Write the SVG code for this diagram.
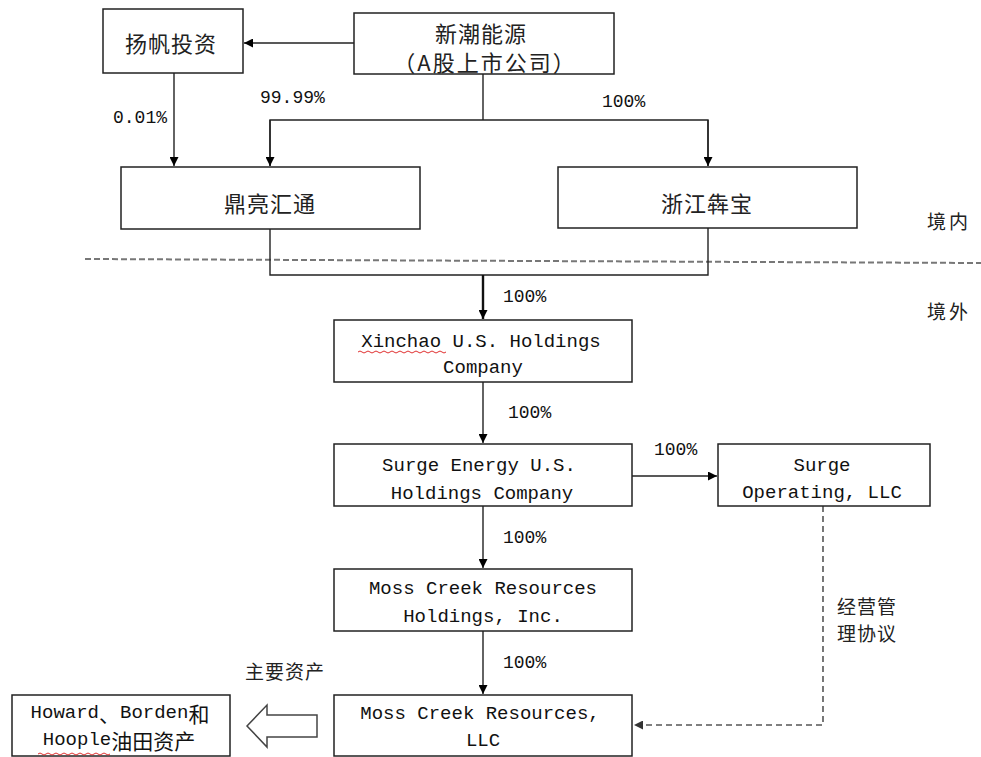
<svg xmlns="http://www.w3.org/2000/svg" width="981" height="757" viewBox="0 0 981 757">
<defs>
<marker id="ah" viewBox="0 0 10 10" refX="10" refY="5" markerWidth="9" markerHeight="9" markerUnits="userSpaceOnUse" orient="auto">
<path d="M0,0 L10,5 L0,10 z" fill="#000"/>
</marker>
<marker id="ahg" viewBox="0 0 10 10" refX="10" refY="5" markerWidth="9" markerHeight="9" markerUnits="userSpaceOnUse" orient="auto">
<path d="M0,0 L10,5 L0,10 z" fill="#333"/>
</marker>
</defs>
<style>
.box{fill:#fff;stroke:#222;stroke-width:1.5}
.ln{fill:none;stroke:#222;stroke-width:1.4}
.cn{font-family:"Noto Sans CJK SC","Noto Sans CJK JP",sans-serif;font-size:22px;fill:#222;text-anchor:middle;dominant-baseline:central}
.en{font-family:"Liberation Mono","DejaVu Sans Mono",monospace;font-size:19px;fill:#111;text-anchor:middle;dominant-baseline:central}
.pc{font-family:"Liberation Mono","DejaVu Sans Mono",monospace;font-size:18px;fill:#111;dominant-baseline:central}
.lb{font-family:"Noto Sans CJK SC","Noto Sans CJK JP",sans-serif;font-size:19px;fill:#222;dominant-baseline:central}
.cj{font-family:"Noto Sans CJK SC","Noto Sans CJK JP",sans-serif;font-size:21px}
.wv{fill:none;stroke:#e03030;stroke-width:1}
</style>
<rect width="981" height="757" fill="#fff"/>

<g id="boundary">
<line x1="85" y1="259" x2="981" y2="263" stroke="#777" stroke-width="2" stroke-dasharray="6,3"/>
<text class="lb" x="927" y="220" letter-spacing="3">境内</text>
<text class="lb" x="927" y="310" letter-spacing="3">境外</text>
</g>

<g id="connectors">
<line class="ln" x1="354" y1="43" x2="244" y2="43" marker-end="url(#ah)"/>
<line class="ln" x1="174" y1="73" x2="174" y2="166" marker-end="url(#ah)"/>
<polyline class="ln" points="483,74 483,120"/>
<polyline class="ln" points="270,166 270,120 708,120 708,166"/>
<line class="ln" x1="270" y1="120" x2="270" y2="166" marker-end="url(#ah)"/>
<line class="ln" x1="708" y1="120" x2="708" y2="166" marker-end="url(#ah)"/>
<polyline class="ln" points="270,229 270,275 708,275 708,228"/>
<line x1="483" y1="275" x2="483" y2="319" stroke="#111" stroke-width="2.4" marker-end="url(#ah)"/>
<line class="ln" x1="483" y1="382" x2="483" y2="443" marker-end="url(#ah)"/>
<line class="ln" x1="483" y1="506" x2="483" y2="568" marker-end="url(#ah)"/>
<line class="ln" x1="483" y1="631" x2="483" y2="694" marker-end="url(#ah)"/>
<line class="ln" x1="632" y1="476" x2="717" y2="476" marker-end="url(#ah)"/>
<polyline points="823,506 823,725 634,725" fill="none" stroke="#555" stroke-width="1.6" stroke-dasharray="6,4" marker-end="url(#ahg)"/>
<polygon points="247,726 267,705 267,715 317,715 317,737 267,737 267,747" fill="#fff" stroke="#444" stroke-width="1.5"/>
<text class="pc" x="113" y="118">0.01%</text>
<text class="pc" x="260" y="98">99.99%</text>
<text class="pc" x="602" y="102">100%</text>
<text class="pc" x="503" y="297">100%</text>
<text class="pc" x="508" y="413">100%</text>
<text class="pc" x="654" y="450">100%</text>
<text class="pc" x="503" y="538">100%</text>
<text class="pc" x="503" y="663">100%</text>
<text class="lb" x="245" y="670" letter-spacing="1">主要资产</text>
<text class="lb" x="837" y="605" font-size="20" letter-spacing="1">经营管</text>
<text class="lb" x="837" y="632" font-size="20" letter-spacing="1">理协议</text>
</g>

<g id="yangfan">
<rect class="box" x="103" y="9" width="140" height="64"/>
<text class="cn" x="171" y="42" letter-spacing="1">扬帆投资</text>
</g>

<g id="xinchao-energy">
<rect class="box" x="354" y="13" width="260" height="61"/>
<text class="cn" x="481" y="32" letter-spacing="1">新潮能源</text>
<text class="cn" x="485" y="61" letter-spacing="2">（A股上市公司）</text>
</g>

<g id="dingliang">
<rect class="box" x="121" y="167" width="299" height="62"/>
<text class="cn" x="270" y="202" letter-spacing="1">鼎亮汇通</text>
</g>

<g id="zhejiang">
<rect class="box" x="558" y="167" width="299" height="61"/>
<text class="cn" x="707" y="202" letter-spacing="1">浙江犇宝</text>
</g>

<g id="xinchao-us">
<rect class="box" x="334" y="320" width="298" height="62"/>
<text class="en" x="481" y="342">Xinchao U.S. Holdings</text>
<text class="en" x="483" y="368">Company</text>
<path class="wv" d="M358,352 q2,-2 4,0 t4,0 t4,0 t4,0 t4,0 t4,0 t4,0 t4,0 t4,0 t4,0 t4,0 t4,0 t4,0 t4,0 t4,0 t4,0 t4,0 t4,0 t4,0 t4,0 t4,0 t4,0"/>
</g>

<g id="surge-energy">
<rect class="box" x="334" y="444" width="298" height="62"/>
<text class="en" x="479" y="466">Surge Energy U.S.</text>
<text class="en" x="482" y="494">Holdings Company</text>
</g>

<g id="surge-operating">
<rect class="box" x="718" y="444" width="212" height="62"/>
<text class="en" x="822" y="466">Surge</text>
<text class="en" x="822" y="493">Operating, LLC</text>
</g>

<g id="moss-holdings">
<rect class="box" x="334" y="569" width="298" height="62"/>
<text class="en" x="483" y="589">Moss Creek Resources</text>
<text class="en" x="483" y="617">Holdings, Inc.</text>
</g>

<g id="moss-llc">
<rect class="box" x="334" y="695" width="298" height="61"/>
<text class="en" x="480" y="714">Moss Creek Resources,</text>
<text class="en" x="483" y="741">LLC</text>
</g>

<g id="howard">
<rect class="box" x="12" y="695" width="218" height="61"/>
<text class="en" x="120" y="713">Howard<tspan class="cj">、</tspan>Borden<tspan class="cj">和</tspan></text>
<text class="en" x="119" y="740">Hoople<tspan class="cj">油田资产</tspan></text>
<path class="wv" d="M38,754 q2,-2 4,0 t4,0 t4,0 t4,0 t4,0 t4,0 t4,0 t4,0 t4,0 t4,0 t4,0 t4,0 t4,0 t4,0 t4,0 t4,0 t4,0 t4,0"/>
</g>
</svg>
